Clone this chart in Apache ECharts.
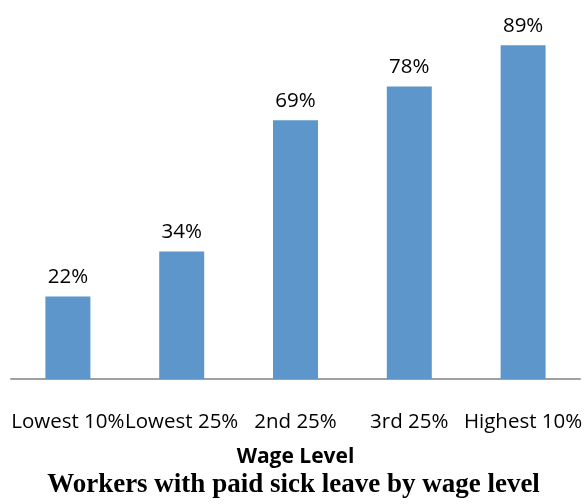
<!DOCTYPE html>
<html>
<head>
<meta charset="utf-8">
<script src="https://cdn.jsdelivr.net/npm/echarts@6/dist/echarts.min.js"></script>
<style>
  html, body { margin: 0; padding: 0; background: #fff; }
  #chart { width: 587px; height: 504px; }
</style>
</head>
<body>
<div id="chart"></div>
<script>
// 工资等级
var wage_levels = ['Lowest 10%', 'Lowest 25%', '2nd 25%', '3rd 25%', 'Highest 10%'];
// 有带薪病假的工人比例 (%)
var sick_leave_pct = [22, 34, 69, 78, 89];

var chart = echarts.init(document.getElementById('chart'));
var option = {
    animation: false,
    title: {
        text: 'Workers with paid sick leave by wage level',
        left: 'center',
        top: 467,
        textStyle: {
            color: '#000',
            fontFamily: 'Liberation Serif',
            fontWeight: 'bold',
            fontSize: 27
        }
    },
    grid: {
        left: 11,
        right: 7,
        top: 4,
        bottom: 125
    },
    xAxis: {
        type: 'category',
        data: wage_levels,
        name: 'Wage Level',
        nameLocation: 'middle',
        nameGap: 68,
        nameTextStyle: {
            color: '#000',
            fontFamily: 'Open Sans',
            fontWeight: 'bold',
            fontSize: 21
        },
        axisTick: { show: false },
        axisLine: {
            lineStyle: { color: '#a0a0a0', width: 2 }
        },
        axisLabel: {
            color: '#000',
            fontFamily: 'Open Sans',
            fontSize: 20.5,
            margin: 33,
            interval: 0
        }
    },
    yAxis: {
        type: 'value',
        min: 0,
        max: 100,
        show: false,
        splitLine: { show: false }
    },
    series: [{
        type: 'bar',
        data: sick_leave_pct,
        barWidth: 45,
        itemStyle: { color: '#5d96cb' },
        label: {
            show: true,
            position: 'top',
            distance: 9,
            color: '#000',
            fontFamily: 'Open Sans',
            fontSize: 20.5,
            formatter: '{c}%'
        }
    }]
};
chart.setOption(option);
</script>
</body>
</html>
